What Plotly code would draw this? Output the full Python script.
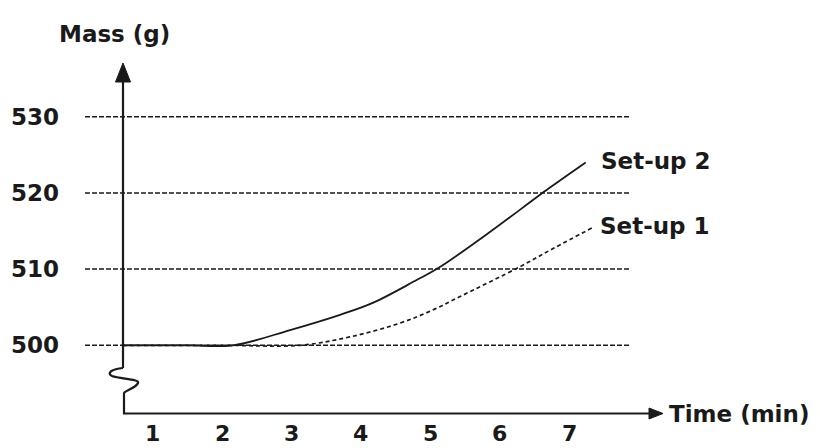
import plotly.graph_objects as go

# ---- data ----
time_setup2 = [0.57, 1.5, 2.16, 2.98, 3.70, 4.18, 4.81, 5.11, 5.82, 6.71, 7.24]
mass_setup2 = [500.0, 500.0, 500.0, 502.0, 504.0, 505.6, 508.6, 510.1, 514.6, 520.6, 524.0]

time_setup1 = [0.57, 2.0, 3.12, 3.84, 4.56, 5.03, 5.43, 6.29, 6.77, 7.33]
mass_setup1 = [500.0, 500.0, 500.0, 501.1, 502.9, 504.6, 506.4, 510.3, 512.7, 515.4]

mass_ticks = [500, 510, 520, 530]
time_ticks = [1, 2, 3, 4, 5, 6, 7]
series_names = ["Set-up 1", "Set-up 2"]
y_title = "Mass (g)"
x_title = "Time (min)"

# ---- layout geometry (page pixel -> data helpers) ----
PAGE_W, PAGE_H = 820, 448
OFF = 8                   # default page body margin
W, H = PAGE_W - OFF, PAGE_H - OFF
X0, XS = 83.3, 69.39      # page pixel of t=0, pixels per minute
Y0, YS = 345.3, 7.62      # page pixel of 500 g, pixels per gram


def X(px):
    return (px - X0) / XS


def Y(py):
    return 500 + (Y0 - py) / YS


INK = "#1a1a1a"
FONT = dict(family="DejaVu Sans", size=23, color=INK, weight="bold")

fig = go.Figure()

fig.add_trace(go.Scatter(x=time_setup2, y=mass_setup2, mode="lines",
                         line=dict(color=INK, width=1.8, shape="spline", smoothing=1.0),
                         name=series_names[1], hoverinfo="skip"))
fig.add_trace(go.Scatter(x=time_setup1, y=mass_setup1, mode="lines",
                         line=dict(color=INK, width=1.7, dash="4px,3px", shape="spline", smoothing=1.0),
                         name=series_names[0], hoverinfo="skip"))

shapes = []
# dashed grid lines
for m in mass_ticks:
    shapes.append(dict(type="line", xref="x", yref="y", x0=X(85), x1=X(630), y0=m, y1=m,
                       line=dict(color=INK, width=1.5, dash="5px,2px"), layer="below"))

# y axis (with break squiggle)
ax_x = X(123)
shapes.append(dict(type="line", xref="x", yref="y", x0=ax_x, x1=ax_x, y0=Y(80), y1=Y(368),
                   line=dict(color=INK, width=2.2)))
sq = (f"M {X(123)},{Y(368)} C {X(112)},{Y(369)} {X(106)},{Y(373)} {X(112)},{Y(376)} "
      f"C {X(120)},{Y(379)} {X(140)},{Y(379)} {X(138)},{Y(383)} "
      f"C {X(136)},{Y(388)} {X(126)},{Y(390)} {X(124)},{Y(393)} "
      f"L {X(124)},{Y(414)}")
shapes.append(dict(type="path", xref="x", yref="y", path=sq, line=dict(color=INK, width=2.2)))
# y arrow head
shapes.append(dict(type="path", xref="x", yref="y",
                   path=f"M {X(123)},{Y(63)} L {X(115.5)},{Y(82)} L {X(130.5)},{Y(82)} Z",
                   fillcolor=INK, line=dict(color=INK, width=1)))
# x axis
shapes.append(dict(type="line", xref="x", yref="y", x0=X(123), x1=X(652), y0=Y(413.5), y1=Y(413.5),
                   line=dict(color=INK, width=2.2)))
shapes.append(dict(type="path", xref="x", yref="y",
                   path=f"M {X(663)},{Y(413.5)} L {X(649)},{Y(408)} L {X(649)},{Y(419)} Z",
                   fillcolor=INK, line=dict(color=INK, width=1)))

ann = []
for m in mass_ticks:
    ann.append(dict(x=X(9), y=m, xref="x", yref="y", text=str(m), showarrow=False,
                    xanchor="left", yanchor="middle", font=FONT))
for t in time_ticks:
    ann.append(dict(x=t, y=Y(433), xref="x", yref="y", text=str(t), showarrow=False,
                    xanchor="center", yanchor="middle", font=dict(FONT, size=22)))
ann.append(dict(x=X(57), y=Y(34), xref="x", yref="y", text=y_title, showarrow=False,
                xanchor="left", yanchor="middle", font=FONT))
ann.append(dict(x=X(667), y=Y(414), xref="x", yref="y", text=x_title, showarrow=False,
                xanchor="left", yanchor="middle", font=FONT))
ann.append(dict(x=X(599), y=Y(161), xref="x", yref="y", text=series_names[1], showarrow=False,
                xanchor="left", yanchor="middle", font=FONT))
ann.append(dict(x=X(598), y=Y(226), xref="x", yref="y", text=series_names[0], showarrow=False,
                xanchor="left", yanchor="middle", font=FONT))

fig.update_layout(
    width=W, height=H, autosize=False,
    margin=dict(l=0, r=0, t=0, b=0, pad=0),
    paper_bgcolor="white", plot_bgcolor="white",
    showlegend=False,
    xaxis=dict(range=[X(OFF), X(PAGE_W)], visible=False, fixedrange=True),
    yaxis=dict(range=[Y(PAGE_H), Y(OFF)], visible=False, fixedrange=True),
    shapes=shapes, annotations=ann,
)

fig.write_html("out.html")
